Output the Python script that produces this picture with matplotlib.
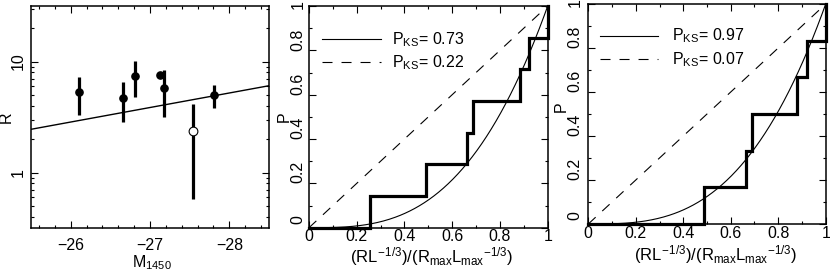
import matplotlib
matplotlib.use("Agg")
import matplotlib.pyplot as plt  # noqa: E402
import numpy as np  # noqa: E402
from matplotlib.ticker import MultipleLocator, LogLocator, FixedFormatter, NullFormatter  # noqa: E402
from matplotlib.transforms import offset_copy, blended_transform_factory  # noqa: E402

FS = 11.5
plt.rcParams.update({
    "font.family": ["Liberation Sans", "DejaVu Sans"],
    "font.size": FS,
    "mathtext.fontset": "custom",
    "mathtext.rm": "Liberation Sans",
    "mathtext.it": "Liberation Sans",
    "mathtext.bf": "Liberation Sans:bold",
    "axes.linewidth": 1.1,
    "lines.scale_dashes": False,
})

# ---------------------------------------------------------------- data
# panel 1: R vs M1450 (filled points, plus one open point)
M_filled = [-26.10, -26.66, -26.81, -27.13, -27.18, -27.81]
R_filled = [5.27, 4.72, 7.41, 7.57, 5.73, 4.95]
R_filled_lo = [3.30, 2.88, 4.82, 7.57, 3.15, 3.80]
R_filled_hi = [7.27, 6.59, 10.1, 7.57, 8.34, 6.10]
M_open = [-27.54]
R_open = [2.37]
R_open_lo = [0.575]
R_open_hi = [4.16]
fit_M = [-25.5, -28.5]
fit_R = [2.45, 6.05]

# panels 2/3: sorted (R L^-1/3)/(Rmax Lmax^-1/3) values (empirical CDF steps)
u_mid = [0.257, 0.492, 0.661, 0.689, 0.882, 0.920, 1.0]
u_right = [0.487, 0.663, 0.688, 0.881, 0.920, 1.0]
ks_mid = ["0.73", "0.22"]
ks_right = ["0.97", "0.07"]
model_power = 3      # solid model: P = u^3 ; dashed model: P = u

W, H = 830, 276
fig = plt.figure(figsize=(W / 100, H / 100), dpi=100)


def box(x0, x1, y0, y1):
    return [x0 / W, (H - y1) / H, (x1 - x0) / W, (y1 - y0) / H]


ax1 = fig.add_axes(box(31, 269, 6, 228))
ax2 = fig.add_axes(box(309, 547.7, 6, 227.7))
ax3 = fig.add_axes(box(588.3, 825.7, 4, 224))

for ax in (ax1, ax2, ax3):
    ax.tick_params(which="both", direction="in", top=True, right=True, width=0.8)
    ax.tick_params(which="major", length=5)
    ax.tick_params(which="minor", length=2.5)

# ---------------------------------------------------------------- panel 1
ax1.set_yscale("log")
ax1.plot(fit_M, fit_R, color="black", lw=1.0)
ef = np.array([np.subtract(R_filled, R_filled_lo), np.subtract(R_filled_hi, R_filled)])
ax1.errorbar(M_filled, R_filled, yerr=ef, fmt="o", color="black", ms=5.2,
             elinewidth=2.3, capsize=0)
eo = np.array([np.subtract(R_open, R_open_lo), np.subtract(R_open_hi, R_open)])
ax1.errorbar(M_open, R_open, yerr=eo, fmt="o", color="black", mfc="white", ms=6.3,
             mew=0.8, elinewidth=2.3, capsize=0)
ax1.set_xlim(-25.5, -28.5)
ax1.set_ylim(10 ** -0.5, 10 ** 1.5)
ax1.xaxis.set_major_locator(MultipleLocator(1))
ax1.xaxis.set_minor_locator(MultipleLocator(0.2))
ax1.yaxis.set_major_locator(LogLocator(base=10, subs=(1.0,)))
ax1.yaxis.set_minor_locator(LogLocator(base=10, subs=np.arange(2, 10)))
ax1.yaxis.set_minor_formatter(NullFormatter())
ax1.set_yticks([1, 10])
ax1.yaxis.set_major_formatter(FixedFormatter(["1", "10"]))
ax1.tick_params(axis="x", which="major", pad=7.0)
ax1.tick_params(axis="y", which="major", pad=4.0, labelrotation=90)
for lab in ax1.get_yticklabels():
    lab.set_va("center")
ax1.text(-0.105, 0.5, "R", transform=ax1.transAxes, rotation=90,
         ha="center", va="center")
ax1.text(0.508, -0.158, r"M$_{1450}$", transform=ax1.transAxes,
         ha="center", va="center")


# ---------------------------------------------------------------- panels 2/3
def cdf_panel(ax, u, ks, lab_dx, ylab_xy, xlab_xy, leg_y, leg_x):
    n = len(u)
    xs = np.concatenate([[0.0], u])
    ys = np.concatenate([[0.0], np.arange(1, n + 1) / n])
    grid = np.linspace(0, 1, 200)
    ax.plot(grid, grid ** model_power, color="black", lw=0.8)
    ax.plot([0, 1], [0, 1], color="black", lw=0.8, ls=(0, (7.2, 6.5)))
    ax.step(xs, ys, where="post", color="black", lw=2.3, clip_on=False,
            solid_joinstyle="miter")
    ax.set_xlim(0, 1)
    ax.set_ylim(0, 1)
    ax.xaxis.set_major_locator(MultipleLocator(0.2))
    ax.xaxis.set_minor_locator(MultipleLocator(0.1))
    ax.yaxis.set_major_locator(MultipleLocator(0.2))
    ax.yaxis.set_minor_locator(MultipleLocator(0.1))
    ax.xaxis.set_major_formatter(plt.FuncFormatter(lambda v, p: f"{v:g}"))
    ax.tick_params(axis="x", which="major", pad=1.2)
    ax.tick_params(axis="y", labelleft=False)
    trans = blended_transform_factory(ax.transAxes, ax.transData)
    for v in np.arange(0, 1.01, 0.2):
        txt = f"{v:g}"
        dy = 1 if txt == "1" else (8 if txt == "0" else 11)
        tr = offset_copy(trans, fig=fig, x=-lab_dx, y=dy, units="dots")
        ax.text(0, v, txt, transform=tr, rotation=90, ha="center", va="center")
    ax.text(ylab_xy[0], ylab_xy[1], "P", transform=ax.transAxes, rotation=90,
            ha="center", va="center")
    ax.text(xlab_xy[0], xlab_xy[1],
            r"$(RL^{-1/3})/(R_{\rm max}L_{\rm max}{}^{-1/3})$",
            transform=ax.transAxes, ha="center", va="center", fontsize=12)
    styles = ["-", (0, (7.2, 6.5))]
    for yy, st, k in zip(leg_y, styles, ks):
        ax.plot([leg_x[0], leg_x[1]], [yy, yy], color="black", lw=0.8, ls=st)
        ax.text(leg_x[2], yy, r"P$_{\rm KS}$= " + k, ha="left", va="center")


cdf_panel(ax2, u_mid, ks_mid, 10.7, (-0.102, 0.5), (0.515, -0.132),
          (0.85, 0.746), (0.053, 0.30, 0.348))
cdf_panel(ax3, u_right, ks_right, 13.3, (-0.112, 0.533), (0.538, -0.137),
          (0.855, 0.749), (0.049, 0.295, 0.351))

fig.savefig("out.png", dpi=100)
